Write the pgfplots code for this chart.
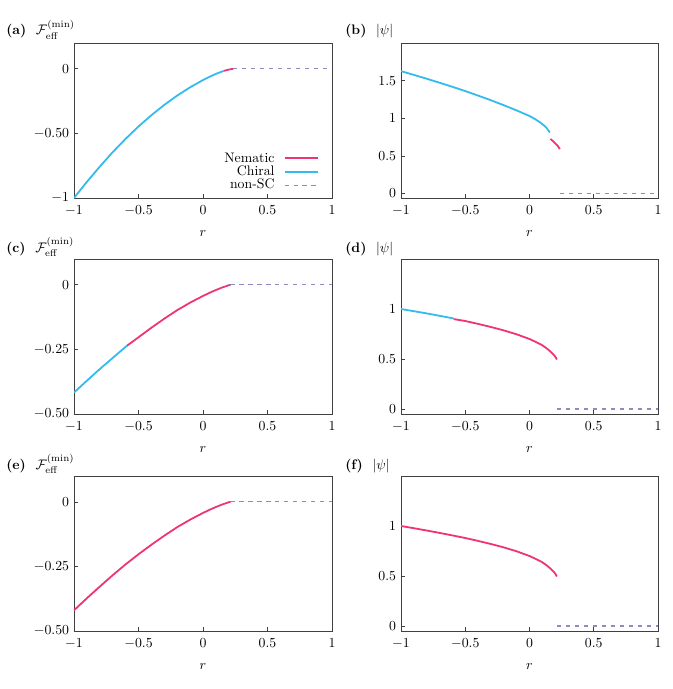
\documentclass[border=0pt]{standalone}
\usepackage{pgfplots}
\pgfplotsset{compat=1.18}
\usepackage{amsmath}
\definecolor{nemC}{HTML}{EE3377}
\definecolor{chiC}{HTML}{33BBEE}
\definecolor{nscC}{RGB}{140,140,190}
\newcommand{\px}{0.7246pt}

\pgfplotsset{
  panel/.style={
    scale only axis, width=258*\px, height=155*\px,
    xmin=-1, xmax=1, xtick={-1,-0.5,0,0.5,1},
    xlabel={$r$},
    xticklabel style={yshift=-2pt},
    xlabel style={yshift=-4pt},
    tick align=inside, xtick pos=left, ytick pos=left,
    major tick length=3pt,
    axis line style={black!75, line width=0.6pt},
    tick style={black!75, line width=0.5pt},
    every axis plot/.append style={no markers},
  },
  nem/.style={nemC, line width=1.3pt},
  chi/.style={chiC, line width=1.3pt},
  nsc/.style={nscC, line width=0.9pt, dash pattern=on 3pt off 3.5pt},
}

\begin{document}
\begin{tikzpicture}
\path[use as bounding box] (0,0) rectangle (672*\px,-689*\px);

% (a) free energy, chiral / nematic / non-SC
\begin{axis}[panel, at={(74*\px,-198*\px)}, anchor=south west,
  ymin=-1, ymax=0.2, ytick={-1,-0.5,0}, yticklabels={$-1$,$-0.50$,$0$},
  legend style={at={(rel axis cs:0.965,0.02)}, anchor=south east, draw=none, fill=none,
    nodes={inner sep=0.6pt}, row sep=0pt,
    /tikz/every odd column/.append style={column sep=6pt}},
  legend cell align=right, legend plot pos=right,
  legend image code/.code={\draw[#1] (0pt,0pt) -- (24pt,0pt);}]
\addplot[nem] coordinates {(0.16,-0.016) (0.18,-0.011) (0.2,-0.006) (0.22,-0.002) (0.235,0)};
\addlegendentry{Nematic}
\addplot[chi] coordinates {(-1,-1.0) (-0.9,-0.875) (-0.8,-0.757) (-0.7,-0.645) (-0.6,-0.542)
  (-0.5,-0.446) (-0.4,-0.359) (-0.3,-0.279) (-0.2,-0.207) (-0.1,-0.143) (0,-0.087)
  (0.05,-0.062) (0.1,-0.039) (0.16,-0.016)};
\addlegendentry{Chiral}
\addplot[nsc] coordinates {(0.235,0) (1,0)};
\addlegendentry{non-SC}
\end{axis}

% (b) order parameter
\begin{axis}[panel, at={(401*\px,-198*\px)}, anchor=south west, width=257*\px,
  ymin=-0.06, ymax=2, ytick={0,0.5,1,1.5}]
\addplot[chi] coordinates {(-1,1.626) (-0.9,1.576) (-0.8,1.525) (-0.7,1.472) (-0.6,1.418)
  (-0.5,1.361) (-0.4,1.301) (-0.3,1.239) (-0.2,1.173) (-0.1,1.104) (0,1.03)
  (0.04,0.992) (0.08,0.948) (0.11,0.908) (0.135,0.868) (0.158,0.81)};
\addplot[nem] coordinates {(0.163,0.725) (0.18,0.7) (0.2,0.668) (0.22,0.632) (0.236,0.59)};
\addplot[nsc] coordinates {(0.236,0) (1,0)};
\end{axis}

% (c)
\begin{axis}[panel, at={(74*\px,-414*\px)}, anchor=south west,
  ymin=-0.5, ymax=0.1, ytick={-0.5,-0.25,0}, yticklabels={$-0.50$,$-0.25$,$0$}]
\addplot[chi] coordinates {(-1,-0.417) (-0.9,-0.371) (-0.8,-0.326) (-0.7,-0.283) (-0.6,-0.240) (-0.59,-0.236)};
\addplot[nem] coordinates {(-0.59,-0.236) (-0.5,-0.203) (-0.4,-0.166) (-0.3,-0.131) (-0.2,-0.098)
  (-0.1,-0.069) (0,-0.043) (0.05,-0.031) (0.1,-0.020) (0.15,-0.010) (0.18,-0.005) (0.2,-0.0015) (0.213,0)};
\addplot[nsc] coordinates {(0.213,0) (1,0)};
\end{axis}

% (d)
\begin{axis}[panel, at={(401*\px,-414*\px)}, anchor=south west, width=257*\px,
  ymin=-0.05, ymax=1.5, ytick={0,0.5,1}]
\addplot[chi] coordinates {(-1,1.0) (-0.9,0.978) (-0.8,0.956) (-0.7,0.932) (-0.6,0.908) (-0.59,0.905)};
\addplot[nem] coordinates {(-0.59,0.899) (-0.5,0.880) (-0.4,0.851) (-0.3,0.820) (-0.2,0.786)
  (-0.1,0.747) (0,0.700) (0.05,0.670) (0.1,0.637) (0.13,0.610) (0.16,0.578) (0.18,0.553) (0.2,0.525) (0.213,0.495)};
\addplot[nsc] coordinates {(0.213,0) (1,0)};
\end{axis}

% (e)
\begin{axis}[panel, at={(74*\px,-631*\px)}, anchor=south west,
  ymin=-0.5, ymax=0.1, ytick={-0.5,-0.25,0}, yticklabels={$-0.50$,$-0.25$,$0$}]
\addplot[nem] coordinates {(-1,-0.420) (-0.9,-0.373) (-0.8,-0.328) (-0.7,-0.284) (-0.6,-0.242)
  (-0.5,-0.203) (-0.4,-0.166) (-0.3,-0.131) (-0.2,-0.098) (-0.1,-0.069) (0,-0.043)
  (0.05,-0.031) (0.1,-0.020) (0.15,-0.010) (0.18,-0.005) (0.2,-0.0015) (0.213,0)};
\addplot[nsc] coordinates {(0.213,0) (1,0)};
\end{axis}

% (f)
\begin{axis}[panel, at={(401*\px,-631*\px)}, anchor=south west, width=257*\px,
  ymin=-0.05, ymax=1.5, ytick={0,0.5,1}]
\addplot[nem] coordinates {(-1,1.000) (-0.9,0.978) (-0.8,0.955) (-0.7,0.931) (-0.6,0.906)
  (-0.5,0.880) (-0.4,0.851) (-0.3,0.820) (-0.2,0.786) (-0.1,0.747) (0,0.700)
  (0.05,0.670) (0.1,0.637) (0.13,0.610) (0.16,0.578) (0.18,0.553) (0.2,0.525) (0.213,0.495)};
\addplot[nsc] coordinates {(0.213,0) (1,0)};
\end{axis}

% panel labels
\node[anchor=base west, inner sep=0pt] at (6*\px,-35*\px) {\textbf{(a)}\hspace{7pt}$\mathcal{F}_{\mathrm{eff}}^{(\mathrm{min})}$};
\node[anchor=base west, inner sep=0pt] at (345*\px,-35*\px) {\textbf{(b)}\hspace{7pt}$|\psi|$};
\node[anchor=base west, inner sep=0pt] at (6*\px,-252*\px) {\textbf{(c)}\hspace{7pt}$\mathcal{F}_{\mathrm{eff}}^{(\mathrm{min})}$};
\node[anchor=base west, inner sep=0pt] at (345*\px,-252*\px) {\textbf{(d)}\hspace{7pt}$|\psi|$};
\node[anchor=base west, inner sep=0pt] at (6*\px,-469*\px) {\textbf{(e)}\hspace{7pt}$\mathcal{F}_{\mathrm{eff}}^{(\mathrm{min})}$};
\node[anchor=base west, inner sep=0pt] at (345*\px,-469*\px) {\textbf{(f)}\hspace{7pt}$|\psi|$};
\end{tikzpicture}
\end{document}
